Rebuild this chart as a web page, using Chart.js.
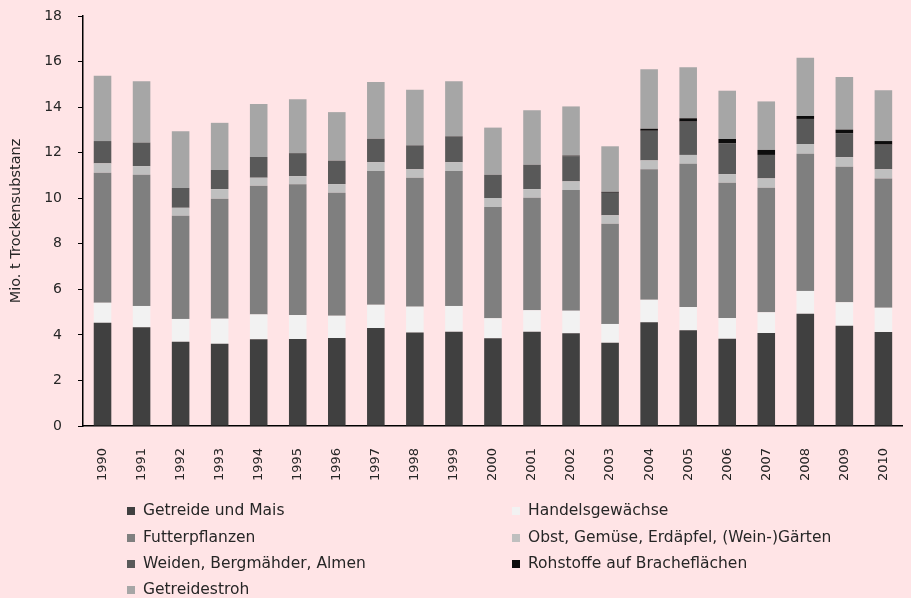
<!DOCTYPE html>
<html>
<head>
<meta charset="utf-8">
<script src="https://cdn.jsdelivr.net/npm/chart.js@4"></script>
<style>
  html, body { margin: 0; padding: 0; background: #ffe4e6; overflow: hidden; }
  canvas { display: block; }
</style>
</head>
<body>
<canvas id="chart" width="921" height="598"></canvas>
<script>
// Years on the x axis
const years = ['1990', '1991', '1992', '1993', '1994', '1995', '1996', '1997', '1998', '1999', '2000',
               '2001', '2002', '2003', '2004', '2005', '2006', '2007', '2008', '2009', '2010'];

// Series values (Mio. t Trockensubstanz), stacked bottom to top
const getreide =    [4.53, 4.33, 3.70, 3.61, 3.81, 3.82, 3.86, 4.30, 4.10, 4.14, 3.85, 4.14, 4.07, 3.66, 4.55, 4.20, 3.83, 4.08, 4.93, 4.40, 4.13];
const handels =     [0.88, 0.94, 1.00, 1.10, 1.09, 1.05, 0.98, 1.02, 1.14, 1.13, 0.88, 0.94, 0.99, 0.82, 0.99, 1.02, 0.91, 0.91, 1.00, 1.03, 1.06];
const futter =      [5.71, 5.76, 4.53, 5.27, 5.65, 5.74, 5.40, 5.87, 5.66, 5.92, 4.88, 4.94, 5.30, 4.40, 5.73, 6.29, 5.94, 5.47, 6.02, 5.95, 5.68];
const obst =        [0.41, 0.38, 0.35, 0.42, 0.35, 0.36, 0.38, 0.39, 0.37, 0.39, 0.40, 0.38, 0.38, 0.37, 0.39, 0.39, 0.38, 0.41, 0.43, 0.42, 0.40];
const weiden =      [0.98, 1.03, 0.87, 0.84, 0.91, 1.01, 1.03, 1.03, 1.05, 1.14, 1.02, 1.07, 1.11, 0.99, 1.30, 1.46, 1.36, 1.03, 1.10, 1.06, 1.08];
const rohstoffe =   [0, 0, 0, 0, 0, 0, 0, 0, 0, 0, 0, 0, 0.02, 0.04, 0.09, 0.15, 0.18, 0.22, 0.13, 0.15, 0.16];
const stroh =       [2.87, 2.70, 2.49, 2.07, 2.33, 2.36, 2.13, 2.49, 2.44, 2.42, 2.07, 2.39, 2.16, 2.00, 2.61, 2.24, 2.12, 2.13, 2.56, 2.31, 2.23];

const FONT = 'DejaVu Sans';
const TEXT_COLOR = '#262626';

// Legend drawn in two columns below the chart
const legendPlugin = {
    id: 'twoColLegend',
    afterDraw(chart) {
        const ctx = chart.ctx;
        const cols = [127, 512];
        const rows = [511, 538, 564, 590];
        ctx.save();
        ctx.font = '15.5px ' + FONT;
        ctx.textBaseline = 'middle';
        chart.data.datasets.forEach((ds, i) => {
            const x = cols[i % 2];
            const y = rows[Math.floor(i / 2)];
            ctx.fillStyle = ds.backgroundColor;
            ctx.fillRect(x, y - 4, 8, 8);
            ctx.fillStyle = TEXT_COLOR;
            ctx.fillText(ds.label, x + 16, y);
        });
        ctx.restore();
    }
};

const ctx = document.getElementById('chart').getContext('2d');
new Chart(ctx, {
    type: 'bar',
    data: {
        labels: years,
        datasets: [
            { label: 'Getreide und Mais', data: getreide, backgroundColor: '#404040' },
            { label: 'Handelsgewächse', data: handels, backgroundColor: '#f2f2f2' },
            { label: 'Futterpflanzen', data: futter, backgroundColor: '#7f7f7f' },
            { label: 'Obst, Gemüse, Erdäpfel, (Wein-)Gärten', data: obst, backgroundColor: '#bfbfbf' },
            { label: 'Weiden, Bergmähder, Almen', data: weiden, backgroundColor: '#595959' },
            { label: 'Rohstoffe auf Bracheflächen', data: rohstoffe, backgroundColor: '#0d0d0d' },
            { label: 'Getreidestroh', data: stroh, backgroundColor: '#a6a6a6' }
        ]
    },
    options: {
        responsive: false,
        animation: false,
        datasets: {
            bar: { barPercentage: 0.45, categoryPercentage: 1 }
        },
        layout: { padding: { top: 16, left: 0, right: 0, bottom: 0 } },
        scales: {
            x: {
                stacked: true,
                grid: { display: false, drawTicks: false },
                border: { display: true, color: '#000', width: 1.5 },
                ticks: {
                    minRotation: 90,
                    maxRotation: 90,
                    padding: 22,
                    color: TEXT_COLOR,
                    font: { family: FONT, size: 13 }
                },
                afterFit(scale) { scale.height = 172; }
            },
            y: {
                stacked: true,
                min: 0,
                max: 18,
                grid: { drawOnChartArea: false, drawTicks: true, tickLength: 5, color: '#000' },
                border: { display: true, color: '#000', width: 1.5 },
                ticks: {
                    stepSize: 2,
                    padding: 16,
                    color: TEXT_COLOR,
                    font: { family: FONT, size: 14 }
                },
                title: {
                    display: true,
                    text: 'Mio. t Trockensubstanz',
                    color: TEXT_COLOR,
                    font: { family: FONT, size: 14.5 },
                    padding: { top: 8, bottom: 0 }
                },
                afterFit(scale) {
                    scale.width = 83;
                    scale.paddingTop = 0;
                }
            }
        },
        plugins: {
            legend: { display: false },
            tooltip: { enabled: false }
        }
    },
    plugins: [legendPlugin]
});
</script>
</body>
</html>
